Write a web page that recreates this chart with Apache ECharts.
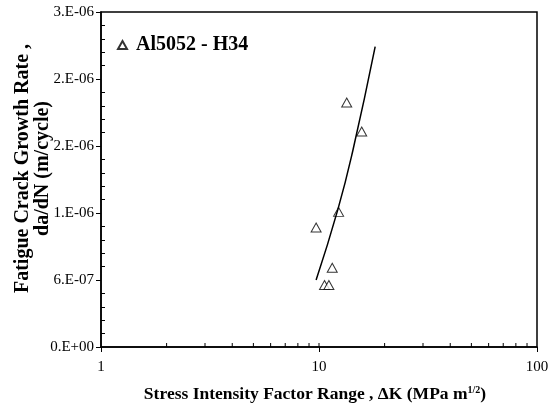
<!DOCTYPE html>
<html>
<head>
<meta charset="utf-8">
<script src="https://cdn.jsdelivr.net/npm/echarts@6/dist/echarts.min.js"></script>
<style>
html, body { margin: 0; background: #fff; }
#main { width: 560px; height: 409px; }
</style>
</head>
<body>
<div id="main"></div>
<script>
//试验数据：应力强度因子幅 ΔK (MPa m^1/2) 与裂纹扩展速率 da/dN (m/cycle)
const kValues = [13.4, 15.7, 12.3, 9.7, 11.5, 10.6, 11.1];
const rateValues = [2.19e-6, 1.93e-6, 1.21e-6, 1.07e-6, 0.71e-6, 0.555e-6, 0.555e-6];

//拟合曲线
const fitK = [9.7, 12.2, 14.3, 18.1];
const fitRate = [0.60e-6, 1.23e-6, 1.76e-6, 2.69e-6];

//刻度
const xTickLabels = {1: '1', 10: '10', 100: '100'};
const xInnerTicks = [2, 3, 4, 5, 6, 7, 8, 9, 10, 20, 30, 40, 50, 60, 70, 80, 90];
const yTickLabels = ['0.E+00', '6.E-07', '1.E-06', '2.E-06', '2.E-06', '3.E-06'];
const yStep = 6e-7;

const serif = 'Liberation Serif';

let chart = echarts.init(document.getElementById('main'), null, {renderer: 'canvas'});

let scatterData = kValues.map((k, i) => [k, rateValues[i]]);
let fitData = fitK.map((k, i) => [k, fitRate[i]]);
let tickData = xInnerTicks.map(v => [v, 0]);

let option = {
    backgroundColor: '#fff',
    animation: false,
    textStyle: {fontFamily: serif, color: '#000'},
    grid: {
        left: 101, right: 23, top: 12, bottom: 62,
        outerBoundsMode: 'none',
        containLabel: false,
        show: true, borderColor: '#000', borderWidth: 1.5
    },
    legend: {
        data: ['Al5052 - H34'],
        left: 117, top: 35,
        padding: 0,
        itemWidth: 9, itemHeight: 8,
        textStyle: {fontFamily: serif, fontSize: 20, fontWeight: 'bold', color: '#000', padding: [0, 0, 0, 4]}
    },
    xAxis: {
        type: 'log',
        logBase: 10,
        min: 1,
        max: 100,
        name: 'Stress Intensity Factor Range , ΔK (MPa m{sup|1/2})',
        nameLocation: 'middle',
        nameGap: 38,
        nameMoveOverlap: false,
        nameTextStyle: {
            fontFamily: serif, fontSize: 17.5, fontWeight: 'bold', color: '#000',
            padding: [0, 8, 0, 0],
            rich: {sup: {fontFamily: serif, fontSize: 10, fontWeight: 'bold', verticalAlign: 'top', padding: [0, 0, 8, 0]}}
        },
        axisLine: {lineStyle: {color: '#000', width: 1.5}},
        axisTick: {show: true, length: 5, lineStyle: {color: '#000'}},
        axisLabel: {
            fontFamily: serif, fontSize: 15, color: '#000', margin: 13,
            formatter: v => xTickLabels[Math.round(v)] || ''
        },
        splitLine: {show: false}
    },
    yAxis: [{
        type: 'value',
        min: 0,
        max: 3e-6,
        interval: yStep,
        name: 'Fatigue Crack Growth Rate ,\nda/dN (m/cycle)',
        nameLocation: 'middle',
        nameGap: 48,
        nameMoveOverlap: false,
        nameTextStyle: {fontFamily: serif, fontSize: 20, fontWeight: 'bold', color: '#000', lineHeight: 20, padding: [0, 0, 0, 22]},
        axisLine: {lineStyle: {color: '#000', width: 1.5}},
        axisTick: {show: true, length: 5, lineStyle: {color: '#000'}},
        axisLabel: {
            fontFamily: serif, fontSize: 15, color: '#000', margin: 7,
            formatter: v => yTickLabels[Math.round(v / yStep)]
        },
        splitLine: {show: false}
    }, {
        //次刻度，向内
        type: 'value',
        min: 0,
        max: 3e-6,
        interval: yStep,
        position: 'left',
        axisLine: {show: false},
        axisTick: {show: false, inside: true},
        minorTick: {show: true, splitNumber: 5, length: 4, lineStyle: {color: '#000'}},
        axisLabel: {show: false},
        splitLine: {show: false}
    }],
    series: [{
        name: 'Al5052 - H34',
        type: 'scatter',
        symbol: 'triangle',
        symbolSize: [10, 9],
        itemStyle: {color: '#fff', borderColor: '#000', borderWidth: 1},
        data: scatterData
    }, {
        name: 'fit',
        type: 'line',
        smooth: true,
        symbol: 'none',
        lineStyle: {color: '#000', width: 1.5},
        data: fitData
    }, {
        //X轴对数次刻度
        name: 'xticks',
        type: 'custom',
        silent: true,
        clip: false,
        renderItem: (params, api) => {
            let p = api.coord([api.value(0), api.value(1)]);
            return {
                type: 'line',
                shape: {x1: p[0], y1: p[1], x2: p[0], y2: p[1] - 4},
                style: {stroke: '#000', lineWidth: 1}
            };
        },
        data: tickData
    }]
};

chart.setOption(option);
</script>
</body>
</html>
